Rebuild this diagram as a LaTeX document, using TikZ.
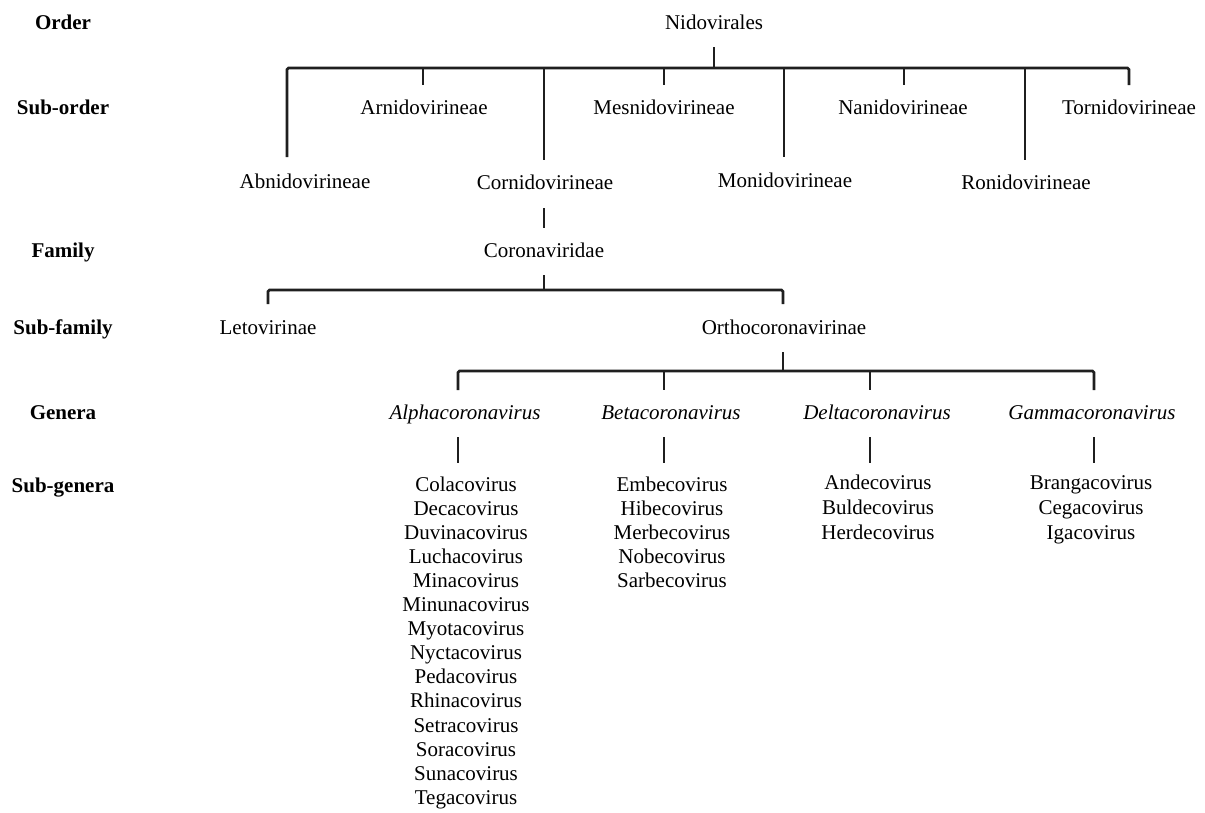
\documentclass[tikz,border=0pt]{standalone}
\usepackage{fontspec}
\setmainfont{Liberation Serif}
\begin{document}
\begin{tikzpicture}[x=1pt,y=-1pt,
  lbl/.style={font=\fontsize{21}{24}\selectfont\bfseries, anchor=base, inner sep=0pt},
  tx/.style={font=\fontsize{21}{24}\selectfont, anchor=base, inner sep=0pt},
  gen/.style={font=\fontsize{21}{24}\selectfont\itshape, anchor=base, inner sep=0pt},
  conn/.style={line width=2.6pt, draw=black!88, rounded corners=1.5pt}]
\useasboundingbox[fill=white] (0,0) rectangle (1205,812);

% rank labels
\node[lbl] (Lorder) at (63,29) {Order};
\node[lbl] (Lsuborder) at (63,114) {Sub-order};
\node[lbl] (Lfamily) at (63,257) {Family};
\node[lbl] (Lsubfamily) at (63,334) {Sub-family};
\node[lbl] (Lgenera) at (63,419) {Genera};
\node[lbl] (Lsubgenera) at (63,492) {Sub-genera};

% order
\node[tx] (nido) at (714,29) {Nidovirales};

% sub-orders
\node[tx] (abn) at (305,188) {Abnidovirineae};
\node[tx] (arn) at (424,114) {Arnidovirineae};
\node[tx] (corn) at (545,189) {Cornidovirineae};
\node[tx] (mes) at (664,114) {Mesnidovirineae};
\node[tx] (mon) at (785,187) {Monidovirineae};
\node[tx] (nan) at (903,114) {Nanidovirineae};
\node[tx] (ron) at (1026,189) {Ronidovirineae};
\node[tx] (tor) at (1129,114) {Tornidovirineae};

% family
\node[tx] (corona) at (544,257) {Coronaviridae};

% sub-families
\node[tx] (leto) at (268,334) {Letovirinae};
\node[tx] (ortho) at (784,334) {Orthocoronavirinae};

% genera
\node[gen] (alpha) at (465,419) {Alphacoronavirus};
\node[gen] (beta) at (671,419) {Betacoronavirus};
\node[gen] (delta) at (877,419) {Deltacoronavirus};
\node[gen] (gamma) at (1092,419) {Gammacoronavirus};

% sub-genera
\foreach \n [count=\i] in {Colacovirus,Decacovirus,Duvinacovirus,Luchacovirus,Minacovirus,Minunacovirus,Myotacovirus,Nyctacovirus,Pedacovirus,Rhinacovirus,Setracovirus,Soracovirus,Sunacovirus,Tegacovirus}
  \node[tx] (al\i) at (466,{491+(\i-1)*24.1}) {\n};
\foreach \n [count=\i] in {Embecovirus,Hibecovirus,Merbecovirus,Nobecovirus,Sarbecovirus}
  \node[tx] (be\i) at (672,{491+(\i-1)*24.2}) {\n};
\foreach \n [count=\i] in {Andecovirus,Buldecovirus,Herdecovirus}
  \node[tx] (de\i) at (878,{489+(\i-1)*25}) {\n};
\foreach \n [count=\i] in {Brangacovirus,Cegacovirus,Igacovirus}
  \node[tx] (ga\i) at (1091,{489+(\i-1)*25}) {\n};

% ---- connectors ----
% Nidovirales
\coordinate (nidoTop) at (714,47);
\coordinate (nidoBar) at (714,68);
\coordinate (abnEnd) at (287,157);
\coordinate (arnEnd) at (423,85);
\coordinate (cornEnd) at (544,160);
\coordinate (mesEnd) at (664,85);
\coordinate (monEnd) at (784,157);
\coordinate (nanEnd) at (904,85);
\coordinate (ronEnd) at (1025,160);
\coordinate (torEnd) at (1129,85);
\draw[conn] (nidoTop) -- (nidoBar);
\draw[conn] (abnEnd) -- (abnEnd |- nidoBar) -- (torEnd |- nidoBar) -- (torEnd);
\foreach \c in {arnEnd,cornEnd,mesEnd,monEnd,nanEnd,ronEnd}
  \draw[conn] (\c |- nidoBar) -- (\c);

% Cornidovirineae -> Coronaviridae
\coordinate (cornA) at (544,208);
\coordinate (cornB) at (544,228);
\draw[conn] (cornA) -- (cornB);

% Coronaviridae -> sub-families
\coordinate (corTop) at (544,275);
\coordinate (corBar) at (544,290);
\coordinate (letoEnd) at (268,304);
\coordinate (orthoEnd) at (783,304);
\draw[conn] (corTop) -- (corBar);
\draw[conn] (letoEnd) -- (letoEnd |- corBar) -- (orthoEnd |- corBar) -- (orthoEnd);

% Orthocoronavirinae -> genera
\coordinate (orTop) at (783,352);
\coordinate (orBar) at (783,371);
\coordinate (alEnd) at (458,390);
\coordinate (beEnd) at (664,390);
\coordinate (deEnd) at (870,390);
\coordinate (gaEnd) at (1094,390);
\draw[conn] (orTop) -- (orBar);
\draw[conn] (alEnd) -- (alEnd |- orBar) -- (gaEnd |- orBar) -- (gaEnd);
\foreach \c in {beEnd,deEnd}
  \draw[conn] (\c |- orBar) -- (\c);

% genera -> sub-genera
\foreach \x in {458,664,870,1094}
  \draw[conn] (\x,437) -- (\x,463);
\end{tikzpicture}
\end{document}
